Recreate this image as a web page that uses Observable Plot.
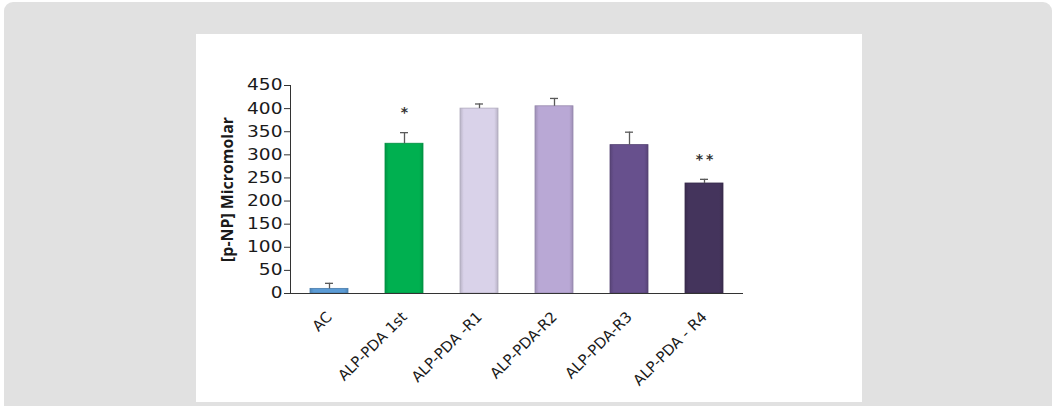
<!DOCTYPE html>
<html>
<head>
<meta charset="utf-8">
<script src="https://cdn.jsdelivr.net/npm/d3@7"></script>
<script src="https://cdn.jsdelivr.net/npm/@observablehq/plot@0.6"></script>
<style>
  html, body { margin: 0; padding: 0; background: #ffffff; width: 1057px; height: 406px; overflow: hidden; }
  #panel { position: absolute; left: 4px; top: 2px; width: 1048px; height: 430px; background: #e1e1e1; border-radius: 9px; }
  #card { position: absolute; left: 196px; top: 34px; width: 666px; height: 368px; background: #ffffff; }
  #chart { position: absolute; left: 0; top: 0; }
  .stars text { letter-spacing: 3px; }
</style>
</head>
<body>
<div id="panel"></div>
<div id="card"></div>
<div id="chart"></div>
<script>
const categories = ["AC", "ALP-PDA 1st", "ALP-PDA -R1", "ALP-PDA-R2", "ALP-PDA-R3", "ALP-PDA - R4"];
const values = [10, 324, 400, 405, 321, 238];
const errors = [12, 24, 10, 17, 28, 9];
const stars = ["", "*", "", "", "", "**"];
const colors = ["#5b9bd5", "#00b050", "#d9d2e9", "#b9a8d5", "#67508d", "#44345c"];
const yTicks = [0, 50, 100, 150, 200, 250, 300, 350, 400, 450];
const yLabel = "[p-NP] Micromolar";

const data = categories.map((c, i) => ({
  cat: c, value: values[i], err: errors[i], star: stars[i],
  fill: `url(#grad${i})`, stroke: d3.color(colors[i]).darker(0.6).formatHex()
}));

const font = "'DejaVu Sans', sans-serif";

const chart = Plot.plot({
  width: 1057,
  height: 406,
  marginLeft: 290,
  marginRight: 314,
  marginTop: 85,
  marginBottom: 113,
  style: { background: "transparent", fontFamily: font, color: "#1a1a1a" },
  x: { domain: categories, paddingInner: 0.5, paddingOuter: 0.25, axis: null },
  y: { domain: [0, 450], axis: null },
  color: { type: "identity" },
  marks: [
    Plot.barY(data, { x: "cat", y: "value", fill: "fill", stroke: "stroke", strokeWidth: 0.8 }),
    Plot.ruleX(data, { x: "cat", y1: "value", y2: d => d.value + d.err, stroke: "#5a5a5a", strokeWidth: 1.3 }),
    Plot.tickY(data, { x: "cat", y: d => d.value + d.err, stroke: "#5a5a5a", strokeWidth: 1.3, insetLeft: 15, insetRight: 15 }),
    Plot.text(data.filter(d => d.star), { x: "cat", y: d => d.value + d.err, text: "star", dy: -20, dx: 1.5, fontSize: 14, fontWeight: "bold", fill: "#333", className: "stars" }),
    Plot.axisY({ ticks: yTicks, tickSize: 6, tickPadding: 2, fontSize: 15.5, tickFormat: d => String(d), label: null, stroke: "#333" }),
    Plot.frame({ anchor: "left", stroke: "#333" }),
    Plot.ruleY([0], { stroke: "#333", strokeWidth: 1.2 }),
    Plot.text(categories, { x: d => d, y: 0, dx: 0, dy: 21, rotate: -45, textAnchor: "end", fontSize: 14.8, fill: "#1a1a1a" }),
    Plot.text([yLabel], { frameAnchor: "left", dx: -63, rotate: -90, textAnchor: "middle", fontSize: 15.9, fontWeight: "bold", fill: "#1a1a1a", fontFamily: "'Open Sans', sans-serif" })
  ]
});

// gradients for the bevelled bar look
const svgns = "http://www.w3.org/2000/svg";
const defs = document.createElementNS(svgns, "defs");
colors.forEach((c, i) => {
  const g = document.createElementNS(svgns, "linearGradient");
  g.setAttribute("id", `grad${i}`);
  g.setAttribute("x1", "0"); g.setAttribute("x2", "1"); g.setAttribute("y1", "0"); g.setAttribute("y2", "0");
  const base = d3.color(c);
  const stops = [[0, base.darker(0.45)], [0.1, base], [0.9, base], [1, base.darker(0.45)]];
  stops.forEach(([o, col]) => {
    const s = document.createElementNS(svgns, "stop");
    s.setAttribute("offset", o);
    s.setAttribute("stop-color", col.formatHex());
    g.appendChild(s);
  });
  defs.appendChild(g);
});
chart.insertBefore(defs, chart.firstChild);

document.getElementById("chart").appendChild(chart);

// widen the y tick labels slightly (the reference glyphs are horizontally stretched)
chart.querySelectorAll("g[aria-label='y-axis tick label'] text").forEach(t => {
  const w = t.getComputedTextLength();
  t.setAttribute("textLength", (w * 1.2).toFixed(1));
  t.setAttribute("lengthAdjust", "spacingAndGlyphs");
});
</script>
</body>
</html>
